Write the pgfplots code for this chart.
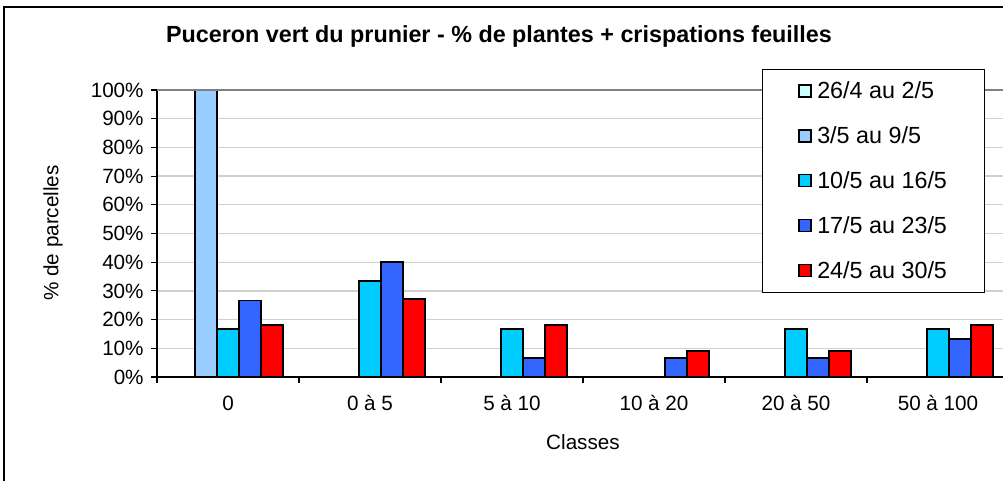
\documentclass[border=0pt]{standalone}
\usepackage{pgfplots}
\pgfplotsset{compat=1.18}
\usepackage{fontspec}
\setmainfont{Liberation Sans}
\definecolor{sA}{HTML}{CCFFFF}
\definecolor{sB}{HTML}{99CCFF}
\definecolor{sC}{HTML}{00CCFF}
\definecolor{sD}{HTML}{3366FF}
\definecolor{sE}{HTML}{FF0000}
\definecolor{gridc}{HTML}{D0D0D0}
\begin{document}
\begin{tikzpicture}[x=1pt,y=1pt]
\useasboundingbox (0,0) rectangle (752.25,360);
\draw[black, line width=1.4pt] (3,-100) -- (3,354.5) -- (900,354.5);
\begin{axis}[
  at={(117.75pt,77.25pt)}, anchor=south west,
  scale only axis, width=639pt, height=215.25pt,
  xmin=-0.5, xmax=5.5, ymin=0, ymax=100,
  ybar, bar width=16.5pt,
  axis x line*=bottom, axis y line*=left,
  axis line style={black, line width=1pt},
  every axis plot/.append style={draw=black, line width=1.3pt},
  xtick={0,1,2,3,4,5},
  xticklabels={0, 0 à 5, 5 à 10, 10 à 20, 20 à 50, 50 à 100},
  major x tick style={draw=none},
  minor xtick={-0.5,0.5,1.5,2.5,3.5,4.5,5.5},
  minor x tick style={black, line width=0.8pt},
  minor tick length=4.5pt,
  tick align=outside,
  ytick={0,10,...,100},
  yticklabels={0\%,10\%,20\%,30\%,40\%,50\%,60\%,70\%,80\%,90\%,100\%},
  major y tick style={black, line width=0.8pt},
  major tick length=4.5pt,
  ymajorgrids, grid style={gridc, line width=1pt},
  tick label style={font=\fontsize{15.5}{18}\selectfont},
  xticklabel style={yshift=-6pt},
  yticklabel style={xshift=-2pt},
  xlabel={Classes}, ylabel={\% de parcelles},
  label style={font=\fontsize{15.5}{18}\selectfont},
  xlabel style={at={(axis description cs:0.5,-0.2265)}, anchor=center},
  ylabel style={at={(axis description cs:-0.122,0.502)}, anchor=center, rotate=0},
  title={\bfseries Puceron vert du prunier - \% de plantes + crispations feuilles},
  title style={at={(axis description cs:0.4014,1.157)}, anchor=center, font=\fontsize{17.5}{20}\selectfont},
  legend style={at={(axis description cs:0.710,1.073)}, anchor=north west,
    draw=black, line width=0.8pt, font=\fontsize{17.5}{20}\selectfont,
    row sep=15.5pt, inner xsep=27pt, inner ysep=7pt,
    nodes={inner xsep=1pt}},
  legend cell align=left,
  legend image code/.code={\draw[#1, line width=0.9pt] (0pt,-4.5pt) rectangle (9pt,4.5pt); \path (12pt,0pt);},
  clip=false,
]
\addlegendimage{fill=sA, draw=black}
\addlegendentry{26/4 au 2/5}
\addplot[fill=sB, bar shift=-16.5pt] coordinates {(0,100)};
\addlegendentry{3/5 au 9/5}
\addplot[fill=sC, bar shift=0pt] coordinates {(0,16.67) (1,33.33) (2,16.67) (4,16.67) (5,16.67)};
\addlegendentry{10/5 au 16/5}
\addplot[fill=sD, bar shift=16.5pt] coordinates {(0,26.67) (1,40) (2,6.67) (3,6.67) (4,6.67) (5,13.33)};
\addlegendentry{17/5 au 23/5}
\addplot[fill=sE, bar shift=33pt] coordinates {(0,18.18) (1,27.27) (2,18.18) (3,9.09) (4,9.09) (5,18.18)};
\addlegendentry{24/5 au 30/5}
\draw[gray, line width=1pt] (rel axis cs:0,1) -- (rel axis cs:1,1);
\end{axis}
\end{tikzpicture}
\end{document}
